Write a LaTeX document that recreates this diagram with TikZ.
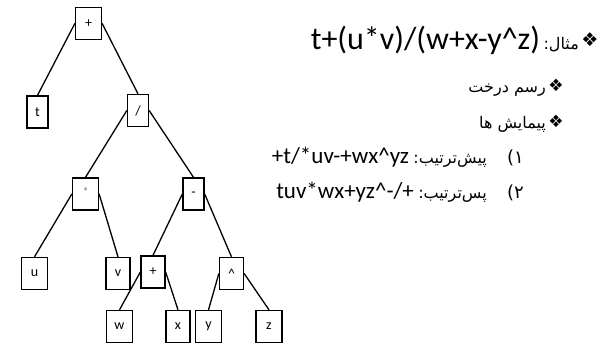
\documentclass[tikz,border=0pt]{standalone}
\usepackage{fontspec}
\setmainfont{Carlito}
\newfontfamily\farsi[Script=Arabic]{DejaVu Sans}
\newfontfamily\dings{DejaVu Sans}
\TeXXeTstate=1
\usetikzlibrary{positioning}
\newcommand{\fa}[1]{{\farsi\beginR #1\endR}}

\tikzset{
  opnode/.style={draw, line width=1.3pt, minimum width=26pt, minimum height=32pt, inner sep=0pt, font=\fontsize{14}{14}\selectfont},
  slim/.style={minimum width=21pt},
  mid/.style={minimum width=24pt},
  branch/.style={line width=1.3pt},
  bul/.style={inner sep=0pt, font=\dings\fontsize{17}{17}\selectfont},
  txt/.style={inner sep=0pt, anchor=base east},
}

\begin{document}
\begin{tikzpicture}[x=1pt, y=-1pt]
  \useasboundingbox (0,0) rectangle (608,344);
  % the tree, level by level
  \node[opnode] (root) at (88.5,23.5) {+};
  \node[opnode, slim] (t)    at (37.5,112) {t};
  \node[opnode, slim] (div)  at (138,110.5) {/};
  \node[opnode] (mul)  at (85.5,194) {\raisebox{4pt}{\textcolor{gray}{\fontsize{13}{13}\selectfont *}}};
  \node[opnode, slim] (sub)  at (193.5,194) {-};
  \node[opnode] (u)    at (34.5,273.5) {u};
  \node[opnode, mid] (v)    at (118,273.5) {v};
  \node[opnode, mid] (add)  at (153,272) {+};
  \node[opnode, mid] (pow)  at (231.5,273.5) {\textasciicircum};
  \node[opnode] (w)    at (119.5,326.5) {w};
  \node[opnode, mid] (x)    at (178,326.5) {x};
  \node[opnode] (y)    at (208.5,326.5) {y};
  \node[opnode] (z)    at (269,326.5) {z};
  \draw[branch] (root.west) -- (t.north);
  \draw[branch] (root.east) -- (div.north);
  \draw[branch] (div.west) -- (mul.north);
  \draw[branch] (div.east) -- (sub.north);
  \draw[branch] (mul.west) -- (u.north);
  \draw[branch] (mul.east) -- (v.north);
  \draw[branch] (sub.west) -- (add.north);
  \draw[branch] (sub.east) -- (pow.north);
  \draw[branch] (add.west) -- (w.north);
  \draw[branch] (add.east) -- (x.north);
  \draw[branch] (pow.west) -- (y.north);
  \draw[branch] (pow.east) -- (z.north);

  % headline
  \node[bul, font=\dings\fontsize{19}{19}\selectfont] (b1) at (590,40) {❖};
  \node[txt, font=\fontsize{16}{16}\selectfont] (ex) at (579,50) {\fa{مثال:}};
  \node[txt, font=\fontsize{32}{32}\selectfont, left=3pt of ex.base west, anchor=base east] (expr) {t+(u*v)/(w+x-y\textasciicircum z)};
  % bullet items
  \node[bul] (b2) at (556,85) {❖};
  \node[txt, font=\fontsize{16}{16}\selectfont] (draw) at (546,93) {\fa{رسم درخت}};
  \node[bul] (b3) at (556,121) {❖};
  \node[txt, font=\fontsize{16}{16}\selectfont] (walk) at (546,129) {\fa{پیمایش ها}};
  % numbered lines
  \node[txt, font=\farsi\fontsize{18}{18}\selectfont] (n1) at (524,164) {۱)};
  \node[txt, font=\fontsize{16}{16}\selectfont] (pre) at (487,164) {\fa{پیش‌ترتیب:}};
  \node[txt, font=\fontsize{23}{23}\selectfont, left=4pt of pre.base west, anchor=base east] (preseq) {+t/*uv-+wx\textasciicircum yz};
  \node[txt, font=\farsi\fontsize{18}{18}\selectfont] (n2) at (524,199) {۲)};
  \node[txt, font=\fontsize{16}{16}\selectfont] (post) at (487,199) {\fa{پس‌ترتیب:}};
  \node[txt, font=\fontsize{23}{23}\selectfont, left=4pt of post.base west, anchor=base east] (postseq) {tuv*wx+yz\textasciicircum-/+};
\end{tikzpicture}
\end{document}
